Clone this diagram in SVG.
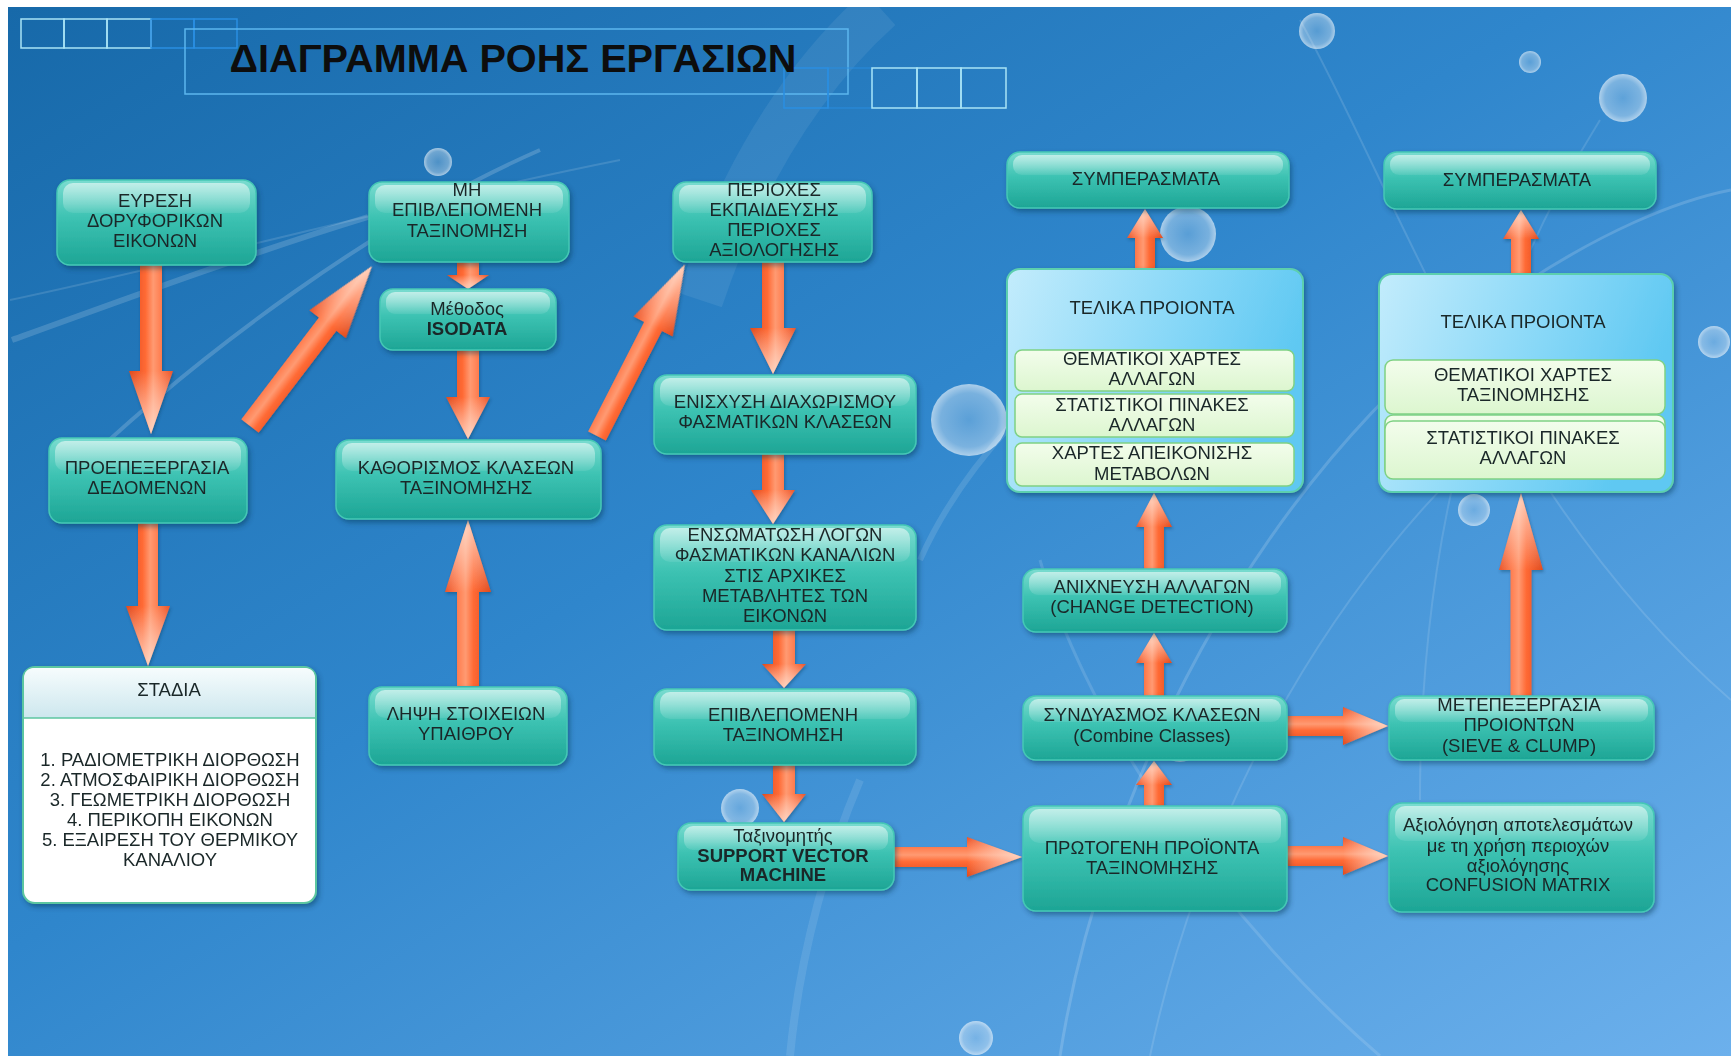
<svg xmlns="http://www.w3.org/2000/svg" width="1731" height="1056" viewBox="0 0 1731 1056">
<defs>
<linearGradient id="bg" x1="0" y1="0" x2="1" y2="1">
<stop offset="0" stop-color="#1769a9"/>
<stop offset="0.45" stop-color="#2f86cc"/>
<stop offset="1" stop-color="#6cb0ec"/>
</linearGradient>
<radialGradient id="bub" cx="0.5" cy="0.5" r="0.5">
<stop offset="0" stop-color="#ffffff" stop-opacity="0.2"/>
<stop offset="0.75" stop-color="#ffffff" stop-opacity="0.35"/>
<stop offset="1" stop-color="#ffffff" stop-opacity="0.6"/>
</radialGradient>
<linearGradient id="tg" x1="0" y1="0" x2="0" y2="1">
<stop offset="0" stop-color="#7adcd0"/>
<stop offset="0.45" stop-color="#3cc2b2"/>
<stop offset="1" stop-color="#1da595"/>
</linearGradient>
<linearGradient id="gl" x1="0" y1="0" x2="0" y2="1">
<stop offset="0" stop-color="#ffffff" stop-opacity="0.55"/>
<stop offset="1" stop-color="#ffffff" stop-opacity="0.08"/>
</linearGradient>
<linearGradient id="pg" x1="0" y1="0" x2="1" y2="0.3">
<stop offset="0" stop-color="#c3ecfc"/>
<stop offset="0.6" stop-color="#86d7f7"/>
<stop offset="1" stop-color="#5ec8f2"/>
</linearGradient>
<linearGradient id="hg" x1="0" y1="0" x2="0" y2="1">
<stop offset="0" stop-color="#f6fcfd"/>
<stop offset="1" stop-color="#cde7ee"/>
</linearGradient>
<linearGradient id="sg" x1="0" y1="0" x2="0" y2="1">
<stop offset="0" stop-color="#f3fdec"/>
<stop offset="1" stop-color="#dcf6cf"/>
</linearGradient>
<linearGradient id="ag" x1="0" y1="0" x2="0" y2="1">
<stop offset="0" stop-color="#e9552a"/>
<stop offset="0.3" stop-color="#ff8255"/>
<stop offset="0.45" stop-color="#ff9a72"/>
<stop offset="0.62" stop-color="#ff6a35"/>
<stop offset="1" stop-color="#df4a1d"/>
</linearGradient>
<linearGradient id="tip" x1="0" y1="0" x2="1" y2="0">
<stop offset="0" stop-color="#ffffff" stop-opacity="0"/>
<stop offset="1" stop-color="#ffe6d8" stop-opacity="0.75"/>
</linearGradient>
<filter id="sh" x="-10%" y="-10%" width="125%" height="135%">
<feDropShadow dx="2" dy="3" stdDeviation="2.5" flood-color="#0a3050" flood-opacity="0.45"/>
</filter>
<filter id="ash" x="-20%" y="-20%" width="140%" height="140%">
<feDropShadow dx="1" dy="2" stdDeviation="1.5" flood-color="#0a3050" flood-opacity="0.35"/>
</filter>
</defs>
<style>
text { font-family: "Liberation Sans", Arial, sans-serif; font-size: 18.5px; fill: #1a2728; text-anchor: middle; }
.b { fill: url(#tg); stroke: #45c8b5; stroke-width: 1.5; filter: url(#sh); }
.g { fill: url(#gl); }
.p { fill: url(#pg); stroke: #5ccfae; stroke-width: 2; filter: url(#sh); }
.s { fill: url(#sg); stroke: #7fd184; stroke-width: 1.5; }
.as { fill: url(#ag); }
.ah { fill: url(#tip); }
.bold { font-weight: bold; }
.sqb { fill: none; stroke: #a8e4f6; stroke-width: 1.5; }
.sqd { fill: none; stroke: #2a8fe2; stroke-width: 1.5; }
.cv { fill: none; stroke: #ffffff; }
</style>

<rect x="0" y="0" width="1731" height="1056" fill="#ffffff"/>
<rect x="8" y="7" width="1723" height="1049" fill="url(#bg)"/>

<g id="decor">
<path class="cv" d="M880,8 C800,80 740,180 700,300" stroke-width="46" stroke-opacity="0.07"/>
<path class="cv" d="M12,340 C150,290 260,250 368,217" stroke-width="6" stroke-opacity="0.16"/>
<path class="cv" d="M60,486 C200,350 380,220 540,150" stroke-width="4" stroke-opacity="0.18"/>
<path class="cv" d="M10,300 C200,260 420,200 620,160" stroke-width="2" stroke-opacity="0.13"/>
<path class="cv" d="M1060,1056 C1100,800 1250,480 1500,300 C1600,230 1680,200 1731,190" stroke-width="3" stroke-opacity="0.16"/>
<path class="cv" d="M1150,1056 C1200,820 1330,560 1560,380" stroke-width="2" stroke-opacity="0.13"/>
<path class="cv" d="M1300,20 C1400,200 1500,500 1731,700" stroke-width="2" stroke-opacity="0.13"/>
<path class="cv" d="M1040,560 C1080,700 1200,900 1380,1056" stroke-width="3" stroke-opacity="0.13"/>
<path class="cv" d="M1600,120 C1500,280 1420,500 1420,800" stroke-width="2" stroke-opacity="0.12"/>
<path class="cv" d="M860,780 C830,850 800,950 790,1056" stroke-width="8" stroke-opacity="0.1"/>
<path class="cv" d="M920,560 C960,470 1040,380 1160,300" stroke-width="6" stroke-opacity="0.12"/>
<circle cx="438" cy="162" r="14" fill="url(#bub)"/>
<circle cx="1317" cy="31" r="18" fill="url(#bub)"/>
<circle cx="1530" cy="62" r="11" fill="url(#bub)"/>
<circle cx="1623" cy="98" r="24" fill="url(#bub)"/>
<circle cx="1188" cy="234" r="28" fill="url(#bub)"/>
<ellipse cx="969" cy="420" rx="38" ry="36" fill="url(#bub)"/>
<circle cx="1714" cy="342" r="16" fill="url(#bub)"/>
<circle cx="1474" cy="510" r="16" fill="url(#bub)"/>
<circle cx="1180" cy="740" r="22" fill="url(#bub)"/>
<circle cx="740" cy="808" r="19" fill="url(#bub)"/>
<circle cx="976" cy="1038" r="17" fill="url(#bub)"/>
</g>

<g id="title">
<rect class="sqb" x="21" y="19" width="43" height="29"/>
<rect class="sqb" x="64" y="19" width="43" height="29"/>
<rect class="sqb" x="107" y="19" width="44" height="29"/>
<rect class="sqd" x="151" y="19" width="43" height="29"/>
<rect class="sqd" x="194" y="19" width="43" height="29"/>
<rect x="185" y="29" width="663" height="65" fill="none" stroke="#5cb6ee" stroke-width="1.5"/>
<rect class="sqd" x="784" y="68" width="44" height="40"/>
<rect class="sqd" x="828" y="68" width="44" height="40" stroke-opacity="0.6"/>
<rect class="sqb" x="872" y="68" width="45" height="40"/>
<rect class="sqb" x="917" y="68" width="44" height="40"/>
<rect class="sqb" x="961" y="68" width="45" height="40"/>
<text x="513" y="72" style="font-size:38px;font-weight:bold;fill:#0d0d0d" textLength="567" lengthAdjust="spacingAndGlyphs">ΔΙΑΓΡΑΜΜΑ ΡΟΗΣ ΕΡΓΑΣΙΩΝ</text>
</g>

<g id="connectors" filter="url(#ash)">
<g transform="translate(151 265) rotate(90)"><path class="as" d="M0,-11 L106,-11 L106,-22 L169,0 L106,22 L106,11 L0,11Z"/><path class="ah" d="M106,-22 L169,0 L106,22Z"/></g>
<g transform="translate(250 426) rotate(-52.67)"><path class="as" d="M0,-11 L128,-11 L128,-23 L201,0 L128,23 L128,11 L0,11Z"/><path class="ah" d="M128,-23 L201,0 L128,23Z"/></g>
<g transform="translate(148 523) rotate(90)"><path class="as" d="M0,-10 L83,-10 L83,-22 L143,0 L83,22 L83,10 L0,10Z"/><path class="ah" d="M83,-22 L143,0 L83,22Z"/></g>
<g transform="translate(468 262) rotate(90)"><path class="as" d="M0,-11 L13,-11 L13,-21 L27,0 L13,21 L13,11 L0,11Z"/><path class="ah" d="M13,-21 L27,0 L13,21Z"/></g>
<g transform="translate(468 350) rotate(90)"><path class="as" d="M0,-11 L47,-11 L47,-22 L89,0 L47,22 L47,11 L0,11Z"/><path class="ah" d="M47,-22 L89,0 L47,22Z"/></g>
<g transform="translate(468 686) rotate(-90)"><path class="as" d="M0,-11 L94,-11 L94,-23 L166,0 L94,23 L94,11 L0,11Z"/><path class="ah" d="M94,-23 L166,0 L94,23Z"/></g>
<g transform="translate(597 436) rotate(-62.9)"><path class="as" d="M0,-10 L123,-10 L123,-22 L193,0 L123,22 L123,10 L0,10Z"/><path class="ah" d="M123,-22 L193,0 L123,22Z"/></g>
<g transform="translate(773 262) rotate(90)"><path class="as" d="M0,-11 L66,-11 L66,-23 L112,0 L66,23 L66,11 L0,11Z"/><path class="ah" d="M66,-23 L112,0 L66,23Z"/></g>
<g transform="translate(773 454) rotate(90)"><path class="as" d="M0,-11 L36,-11 L36,-22 L70,0 L36,22 L36,11 L0,11Z"/><path class="ah" d="M36,-22 L70,0 L36,22Z"/></g>
<g transform="translate(784 630) rotate(90)"><path class="as" d="M0,-11 L34,-11 L34,-22 L58,0 L34,22 L34,11 L0,11Z"/><path class="ah" d="M34,-22 L58,0 L34,22Z"/></g>
<g transform="translate(784 765) rotate(90)"><path class="as" d="M0,-11 L29,-11 L29,-22 L57,0 L29,22 L29,11 L0,11Z"/><path class="ah" d="M29,-22 L57,0 L29,22Z"/></g>
<g transform="translate(894 857)"><path class="as" d="M0,-10 L73,-10 L73,-20 L128,0 L73,20 L73,10 L0,10Z"/><path class="ah" d="M73,-20 L128,0 L73,20Z"/></g>
<g transform="translate(1154 806) rotate(-90)"><path class="as" d="M0,-10 L21,-10 L21,-18 L45,0 L21,18 L21,10 L0,10Z"/><path class="ah" d="M21,-18 L45,0 L21,18Z"/></g>
<g transform="translate(1154 696) rotate(-90)"><path class="as" d="M0,-10 L33,-10 L33,-18 L63,0 L33,18 L33,10 L0,10Z"/><path class="ah" d="M33,-18 L63,0 L33,18Z"/></g>
<g transform="translate(1154 569) rotate(-90)"><path class="as" d="M0,-10 L42,-10 L42,-18 L76,0 L42,18 L42,10 L0,10Z"/><path class="ah" d="M42,-18 L76,0 L42,18Z"/></g>
<g transform="translate(1145 269) rotate(-90)"><path class="as" d="M0,-10 L31,-10 L31,-18 L60,0 L31,18 L31,10 L0,10Z"/><path class="ah" d="M31,-18 L60,0 L31,18Z"/></g>
<g transform="translate(1287 726)"><path class="as" d="M0,-10 L56,-10 L56,-19 L101,0 L56,19 L56,10 L0,10Z"/><path class="ah" d="M56,-19 L101,0 L56,19Z"/></g>
<g transform="translate(1287 856)"><path class="as" d="M0,-10 L56,-10 L56,-19 L101,0 L56,19 L56,10 L0,10Z"/><path class="ah" d="M56,-19 L101,0 L56,19Z"/></g>
<g transform="translate(1521 696) rotate(-90)"><path class="as" d="M0,-10.5 L126,-10.5 L126,-22 L203,0 L126,22 L126,10.5 L0,10.5Z"/><path class="ah" d="M126,-22 L203,0 L126,22Z"/></g>
<g transform="translate(1521 274) rotate(-90)"><path class="as" d="M0,-10 L35,-10 L35,-18 L64,0 L35,18 L35,10 L0,10Z"/><path class="ah" d="M35,-18 L64,0 L35,18Z"/></g>
</g>

<g id="n1"><rect class="b" x="57" y="180" width="199" height="85" rx="13"/><rect class="g" x="63" y="183" width="187" height="30" rx="10"/>
<text><tspan x="155" y="207">ΕΥΡΕΣΗ</tspan><tspan x="155" y="227">ΔΟΡΥΦΟΡΙΚΩΝ</tspan><tspan x="155" y="247">ΕΙΚΟΝΩΝ</tspan></text></g>

<g id="n2"><rect class="b" x="49" y="438" width="198" height="85" rx="13"/><rect class="g" x="55" y="441" width="186" height="30" rx="10"/>
<text><tspan x="147" y="474">ΠΡΟΕΠΕΞΕΡΓΑΣΙΑ</tspan><tspan x="147" y="494">ΔΕΔΟΜΕΝΩΝ</tspan></text></g>

<g id="n3"><rect x="23" y="667" width="293" height="236" rx="12" fill="#ffffff" stroke="#5cc6a0" stroke-width="2" filter="url(#sh)"/>
<path d="M24,718 L24,679 Q24,668 35,668 L304,668 Q315,668 315,679 L315,718 Z" fill="url(#hg)"/>
<line x1="23" y1="718" x2="316" y2="718" stroke="#5cc6a0" stroke-width="1.5"/>
<text x="169" y="696">ΣΤΑΔΙΑ</text>
<text><tspan x="170" y="766">1. ΡΑΔΙΟΜΕΤΡΙΚΗ ΔΙΟΡΘΩΣΗ</tspan><tspan x="170" y="786">2. ΑΤΜΟΣΦΑΙΡΙΚΗ ΔΙΟΡΘΩΣΗ</tspan><tspan x="170" y="806">3. ΓΕΩΜΕΤΡΙΚΗ ΔΙΟΡΘΩΣΗ</tspan><tspan x="170" y="826">4. ΠΕΡΙΚΟΠΗ ΕΙΚΟΝΩΝ</tspan><tspan x="170" y="846">5. ΕΞΑΙΡΕΣΗ ΤΟΥ ΘΕΡΜΙΚΟΥ</tspan><tspan x="170" y="866">ΚΑΝΑΛΙΟΥ</tspan></text></g>

<g id="n4"><rect class="b" x="369" y="182" width="200" height="80" rx="13"/><rect class="g" x="375" y="185" width="188" height="28" rx="10"/>
<text><tspan x="467" y="196">ΜΗ</tspan><tspan x="467" y="216">ΕΠΙΒΛΕΠΟΜΕΝΗ</tspan><tspan x="467" y="237">ΤΑΞΙΝΟΜΗΣΗ</tspan></text></g>

<g id="n5"><rect class="b" x="380" y="289" width="176" height="61" rx="13"/><rect class="g" x="386" y="292" width="164" height="22" rx="9"/>
<text><tspan x="467" y="315">Μέθοδος</tspan><tspan x="467" y="335" class="bold">ISODATA</tspan></text></g>

<g id="n6"><rect class="b" x="336" y="440" width="265" height="79" rx="13"/><rect class="g" x="342" y="443" width="253" height="28" rx="10"/>
<text><tspan x="466" y="474">ΚΑΘΟΡΙΣΜΟΣ ΚΛΑΣΕΩΝ</tspan><tspan x="466" y="494">ΤΑΞΙΝΟΜΗΣΗΣ</tspan></text></g>

<g id="n7"><rect class="b" x="369" y="687" width="198" height="78" rx="13"/><rect class="g" x="375" y="690" width="186" height="28" rx="10"/>
<text><tspan x="466" y="720">ΛΗΨΗ ΣΤΟΙΧΕΙΩΝ</tspan><tspan x="466" y="740">ΥΠΑΙΘΡΟΥ</tspan></text></g>

<g id="n8"><rect class="b" x="673" y="182" width="199" height="80" rx="13"/><rect class="g" x="679" y="185" width="187" height="28" rx="10"/>
<text><tspan x="774" y="196">ΠΕΡΙΟΧΕΣ</tspan><tspan x="774" y="216">ΕΚΠΑΙΔΕΥΣΗΣ</tspan><tspan x="774" y="236">ΠΕΡΙΟΧΕΣ</tspan><tspan x="774" y="256">ΑΞΙΟΛΟΓΗΣΗΣ</tspan></text></g>

<g id="n9"><rect class="b" x="654" y="375" width="262" height="79" rx="13"/><rect class="g" x="660" y="378" width="250" height="28" rx="10"/>
<text><tspan x="785" y="408">ΕΝΙΣΧΥΣΗ ΔΙΑΧΩΡΙΣΜΟΥ</tspan><tspan x="785" y="428">ΦΑΣΜΑΤΙΚΩΝ ΚΛΑΣΕΩΝ</tspan></text></g>

<g id="n10"><rect class="b" x="654" y="525" width="262" height="105" rx="13"/><rect class="g" x="660" y="528" width="250" height="34" rx="10"/>
<text><tspan x="785" y="541">ΕΝΣΩΜΑΤΩΣΗ ΛΟΓΩΝ</tspan><tspan x="785" y="561">ΦΑΣΜΑΤΙΚΩΝ ΚΑΝΑΛΙΩΝ</tspan><tspan x="785" y="582">ΣΤΙΣ ΑΡΧΙΚΕΣ</tspan><tspan x="785" y="602">ΜΕΤΑΒΛΗΤΕΣ ΤΩΝ</tspan><tspan x="785" y="622">ΕΙΚΟΝΩΝ</tspan></text></g>

<g id="n11"><rect class="b" x="654" y="689" width="262" height="76" rx="13"/><rect class="g" x="660" y="692" width="250" height="27" rx="10"/>
<text><tspan x="783" y="721">ΕΠΙΒΛΕΠΟΜΕΝΗ</tspan><tspan x="783" y="741">ΤΑΞΙΝΟΜΗΣΗ</tspan></text></g>

<g id="n12"><rect class="b" x="678" y="823" width="216" height="67" rx="13"/><rect class="g" x="684" y="826" width="204" height="24" rx="9"/>
<text><tspan x="783" y="842">Ταξινομητής</tspan><tspan x="783" y="862" class="bold">SUPPORT VECTOR</tspan><tspan x="783" y="881" class="bold">MACHINE</tspan></text></g>

<g id="n13"><rect class="b" x="1023" y="806" width="264" height="105" rx="13"/><rect class="g" x="1029" y="809" width="252" height="34" rx="10"/>
<text><tspan x="1152" y="854">ΠΡΩΤΟΓΕΝΗ ΠΡΟΪΟΝΤΑ</tspan><tspan x="1152" y="874">ΤΑΞΙΝΟΜΗΣΗΣ</tspan></text></g>

<g id="n14"><rect class="b" x="1023" y="696" width="264" height="64" rx="13"/><rect class="g" x="1029" y="699" width="252" height="23" rx="9"/>
<text><tspan x="1152" y="721">ΣΥΝΔΥΑΣΜΟΣ ΚΛΑΣΕΩΝ</tspan><tspan x="1152" y="742">(Combine Classes)</tspan></text></g>

<g id="n15"><rect class="b" x="1023" y="569" width="264" height="63" rx="13"/><rect class="g" x="1029" y="572" width="252" height="23" rx="9"/>
<text><tspan x="1152" y="593">ΑΝΙΧΝΕΥΣΗ ΑΛΛΑΓΩΝ</tspan><tspan x="1152" y="613">(CHANGE DETECTION)</tspan></text></g>

<g id="n16"><rect class="p" x="1007" y="269" width="296" height="223" rx="13"/>
<text x="1152" y="314">ΤΕΛΙΚΑ ΠΡΟΙΟΝΤΑ</text>
<rect class="s" x="1015" y="350" width="279" height="41" rx="7"/>
<rect class="s" x="1015" y="394" width="279" height="43" rx="7"/>
<rect class="s" x="1015" y="443" width="279" height="43" rx="7"/>
<text><tspan x="1152" y="365">ΘΕΜΑΤΙΚΟΙ ΧΑΡΤΕΣ</tspan><tspan x="1152" y="385">ΑΛΛΑΓΩΝ</tspan></text>
<text><tspan x="1152" y="411">ΣΤΑΤΙΣΤΙΚΟΙ ΠΙΝΑΚΕΣ</tspan><tspan x="1152" y="431">ΑΛΛΑΓΩΝ</tspan></text>
<text><tspan x="1152" y="459">ΧΑΡΤΕΣ ΑΠΕΙΚΟΝΙΣΗΣ</tspan><tspan x="1152" y="480">ΜΕΤΑΒΟΛΩΝ</tspan></text></g>

<g id="n17"><rect class="b" x="1007" y="152" width="282" height="56" rx="13"/><rect class="g" x="1013" y="155" width="270" height="20" rx="9"/>
<text x="1146" y="185">ΣΥΜΠΕΡΑΣΜΑΤΑ</text></g>

<g id="n18"><rect class="b" x="1384" y="152" width="272" height="57" rx="13"/><rect class="g" x="1390" y="155" width="260" height="20" rx="9"/>
<text x="1517" y="186">ΣΥΜΠΕΡΑΣΜΑΤΑ</text></g>

<g id="n19"><rect class="p" x="1379" y="274" width="294" height="218" rx="13"/>
<text x="1523" y="328">ΤΕΛΙΚΑ ΠΡΟΙΟΝΤΑ</text>
<rect class="s" x="1385" y="360" width="280" height="54" rx="8"/>
<rect class="s" x="1385" y="415" width="280" height="62" rx="8"/>
<rect class="s" x="1385" y="421" width="280" height="58" rx="8"/>
<text><tspan x="1523" y="381">ΘΕΜΑΤΙΚΟΙ ΧΑΡΤΕΣ</tspan><tspan x="1523" y="401">ΤΑΞΙΝΟΜΗΣΗΣ</tspan></text>
<text><tspan x="1523" y="444">ΣΤΑΤΙΣΤΙΚΟΙ ΠΙΝΑΚΕΣ</tspan><tspan x="1523" y="464">ΑΛΛΑΓΩΝ</tspan></text></g>

<g id="n20"><rect class="b" x="1389" y="696" width="265" height="64" rx="13"/><rect class="g" x="1395" y="699" width="253" height="23" rx="9"/>
<text><tspan x="1519" y="711">ΜΕΤΕΠΕΞΕΡΓΑΣΙΑ</tspan><tspan x="1519" y="731">ΠΡΟΙΟΝΤΩΝ</tspan><tspan x="1519" y="752">(SIEVE &amp; CLUMP)</tspan></text></g>

<g id="n21"><rect class="b" x="1389" y="803" width="265" height="109" rx="13"/><rect class="g" x="1395" y="806" width="253" height="35" rx="10"/>
<text><tspan x="1518" y="831">Αξιολόγηση αποτελεσμάτων</tspan><tspan x="1518" y="852">με τη χρήση περιοχών</tspan><tspan x="1518" y="872">αξιολόγησης</tspan><tspan x="1518" y="891">CONFUSION MATRIX</tspan></text></g>
</svg>
